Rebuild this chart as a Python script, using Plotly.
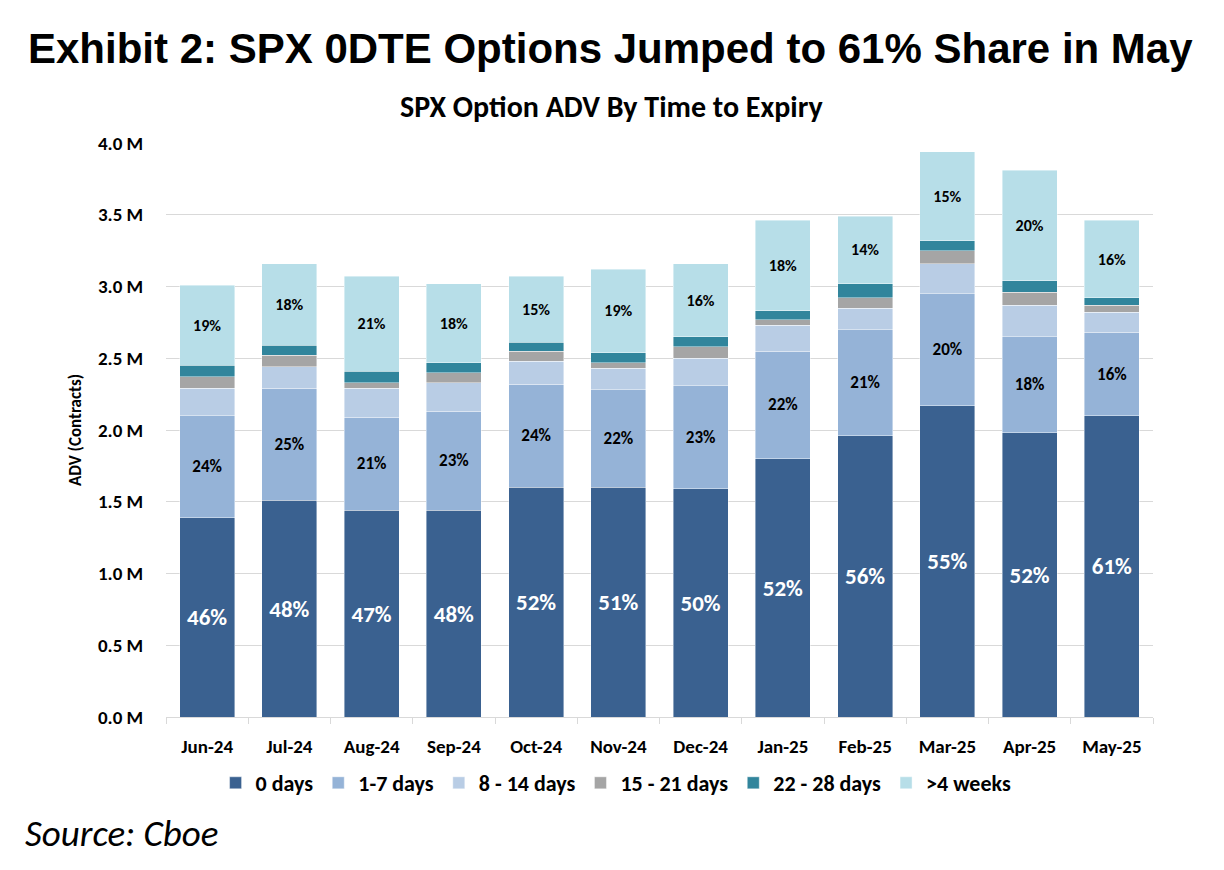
import plotly.graph_objects as go

months = ["Jun-24", "Jul-24", "Aug-24", "Sep-24", "Oct-24", "Nov-24",
          "Dec-24", "Jan-25", "Feb-25", "Mar-25", "Apr-25", "May-25"]

# ADV in millions of contracts, per bucket
d0 = [1.39, 1.51, 1.44, 1.44, 1.60, 1.60, 1.59, 1.80, 1.96, 2.17, 1.98, 2.10]
d1_7 = [0.71, 0.78, 0.65, 0.69, 0.72, 0.68, 0.72, 0.75, 0.74, 0.78, 0.67, 0.58]
d8_14 = [0.19, 0.15, 0.20, 0.20, 0.16, 0.15, 0.19, 0.18, 0.15, 0.21, 0.22, 0.14]
d15_21 = [0.08, 0.08, 0.04, 0.07, 0.07, 0.04, 0.08, 0.04, 0.07, 0.09, 0.09, 0.05]
d22_28 = [0.08, 0.07, 0.08, 0.07, 0.06, 0.07, 0.07, 0.06, 0.10, 0.07, 0.08, 0.05]
d4w = [0.56, 0.57, 0.66, 0.55, 0.46, 0.58, 0.51, 0.63, 0.47, 0.62, 0.77, 0.54]

# Share labels shown in the chart
pct_d0 = [46, 48, 47, 48, 52, 51, 50, 52, 56, 55, 52, 61]
pct_d1_7 = [24, 25, 21, 23, 24, 22, 23, 22, 21, 20, 18, 16]
pct_d4w = [19, 18, 21, 18, 15, 19, 16, 18, 14, 15, 20, 16]

y_ticks = [0, 0.5, 1.0, 1.5, 2.0, 2.5, 3.0, 3.5, 4.0]
y_tick_labels = [f"{v:.1f} M" for v in y_ticks]

series = [
    ("0 days", d0, "#3A6190", pct_d0, "white", 23),
    ("1-7 days", d1_7, "#95B3D7", pct_d1_7, "black", 17),
    ("8 - 14 days", d8_14, "#B9CDE5", None, None, 12),
    ("15 - 21 days", d15_21, "#A5A5A5", None, None, 12),
    ("22 - 28 days", d22_28, "#31859C", None, None, 12),
    (">4 weeks", d4w, "#B7DEE8", pct_d4w, "black", 16),
]

BODY = "Carlito, Calibri, Lato, sans-serif"

fig = go.Figure()
for name, vals, color, pcts, tcol, tsize in series:
    kw = {}
    if pcts is not None:
        kw = dict(
            text=[f"<b>{p}%</b>" for p in pcts],
            textposition="inside",
            insidetextanchor="middle",
            textfont=dict(color=tcol, size=tsize, family=BODY),
        )
    fig.add_trace(go.Bar(
        name=f"<b>{name}</b>", x=months, y=vals,
        marker=dict(color=color, line=dict(color="rgba(255,255,255,0.7)", width=0.6)),
        hoverinfo="skip",
        **kw,
    ))

# page body adds an 8px offset; figure is sized/margined to compensate
fig.update_layout(
    barmode="stack",
    bargap=0.33,
    width=1216, height=862,
    paper_bgcolor="white", plot_bgcolor="white",
    margin=dict(l=158, r=71, t=135, b=153),
    font=dict(family=BODY, color="black"),
    showlegend=True,
    legend=dict(
        orientation="h", x=0.456, xanchor="center", y=-0.115, yanchor="middle",
        traceorder="normal",
        font=dict(size=22, family=BODY, color="black"),
        itemwidth=30,
    ),
    annotations=[
        dict(text="<b>Exhibit 2: SPX 0DTE Options Jumped to 61% Share in May</b>",
             xref="paper", yref="paper", x=0.45, y=1.0, xanchor="center", yanchor="middle",
             yshift=95, showarrow=False,
             font=dict(family="Liberation Sans, Arial, sans-serif", size=42, color="black")),
        dict(text="<b>SPX Option ADV By Time to Expiry</b>",
             xref="paper", yref="paper", x=0.452, y=1.0, xanchor="center", yanchor="middle",
             yshift=37, showarrow=False,
             font=dict(family=BODY, size=30, color="black")),
        dict(text="<i>Source: Cboe</i>",
             xref="paper", yref="paper", x=0, y=0, xanchor="left", yanchor="middle",
             xshift=-143, yshift=-116, showarrow=False,
             font=dict(family=BODY, size=37, color="black")),
    ],
)

fig.update_yaxes(
    range=[0, 4.0], tickvals=y_ticks, ticktext=[f"<b>{t}</b>" for t in y_tick_labels],
    tickfont=dict(size=19, family=BODY, color="black"),
    showgrid=True, gridcolor="#D9D9D9", gridwidth=1.2,
    zeroline=False, ticks="outside", ticklen=18, tickcolor="rgba(0,0,0,0)",
    title=dict(text="<b>ADV (Contracts)</b>", font=dict(size=17, family=BODY, color="black"), standoff=12),
)
fig.update_xaxes(
    tickvals=months, ticktext=[f"<b>{m}</b>" for m in months],
    tickfont=dict(size=19, family=BODY, color="black"),
    showline=True, linecolor="#D9D9D9", linewidth=1.2,
    ticks="outside", ticklen=6, tickcolor="#D9D9D9", tickson="boundaries",
    ticklabelstandoff=12,
)

fig.write_html("out.html")
